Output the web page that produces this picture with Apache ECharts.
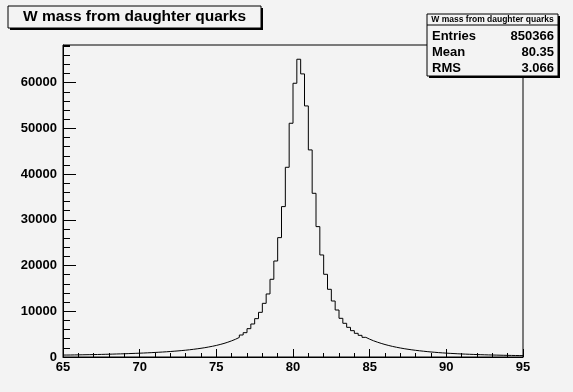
<!DOCTYPE html>
<html><head><meta charset="utf-8">
<script src="https://cdn.jsdelivr.net/npm/echarts@6/dist/echarts.min.js"></script>
<style>html,body{margin:0;padding:0;background:#f3f3f3}#c{width:573px;height:392px}</style>
</head><body><div id="c"></div>
<script>
// Histogram definition
const binLow = 65;
const binWidth = 0.25;
const counts = [
  430,440,455,470,485,500,515,530,550,570,590,610,635,660,685,710,740,770,800,835,
  870,910,950,995,1040,1090,1145,1200,1265,1335,1410,1490,1580,1680,1790,1910,2040,2190,2350,2530,
  2740,2970,3240,3540,3880,4280,
  4810,5320,6200,7220,8390,9770,11740,13790,17000,21000,26110,32900,41500,51130,59880,
  65135,
  61930,54920,45300,35810,28520,22320,18090,14810,12250,10280,8460,7370,6490,5760,5180,4740,
  4300,3900,3550,3250,2980,2730,2510,2310,2130,1970,1820,1690,1570,1460,1360,1270,1180,1100,1030,960,
  900,845,795,750,705,665,630,595,565,535,505,480,455,435,415,395,375,360,345,330,315,300
];
const xTickLabels = [65,70,75,80,85,90,95];
const yTickLabels = [0,10000,20000,30000,40000,50000,60000];
const titleText = 'W mass from daughter quarks';
const statTitle = 'W mass from daughter quarks';
const statNames = ['Entries','Mean','RMS'];
const statValues = ['850366','80.35','3.066'];

const xMin = binLow, xMax = binLow + counts.length * binWidth;
const yMax = 68250;
const stepData = counts.map((c, i) => [binLow + i * binWidth, c]);
stepData.push([xMax, counts[counts.length - 1]]);

const BG = '#f3f3f3';
const FONT = '"Liberation Sans", Arial, Helvetica, sans-serif';
const G = {left: 63, top: 45, width: 460, height: 312};

const chart = echarts.init(document.getElementById('c'), null, {renderer: 'canvas'});

const statX = 427, statY = 14, statW = 131, statH = 62;
const graphics = [
  // title box shadow + box
  {type: 'rect', shape: {x: 10, y: 8, width: 253, height: 22}, style: {fill: '#000'}},
  {type: 'rect', shape: {x: 8, y: 6, width: 253, height: 22}, style: {fill: BG, stroke: '#000', lineWidth: 1}},
  {type: 'text', x: 134.5, y: 17, style: {text: titleText, font: 'bold 15.5px ' + FONT, fill: '#000', align: 'center', verticalAlign: 'middle'}},
  // stats box
  {type: 'rect', shape: {x: statX + 2, y: statY + 2, width: statW, height: statH}, style: {fill: '#000'}},
  {type: 'rect', shape: {x: statX, y: statY, width: statW, height: statH}, style: {fill: BG, stroke: '#000', lineWidth: 1}},
  {type: 'line', shape: {x1: statX, y1: statY + 11, x2: statX + statW, y2: statY + 11}, style: {stroke: '#000', lineWidth: 1}},
  {type: 'text', x: statX + statW / 2, y: statY + 6, style: {text: statTitle, font: 'bold 8.5px ' + FONT, fill: '#000', align: 'center', verticalAlign: 'middle'}}
];
statNames.forEach((n, i) => {
  graphics.push({type: 'text', x: statX + 5, y: statY + 22 + i * 16, style: {text: n, font: 'bold 13px ' + FONT, fill: '#000', align: 'left', verticalAlign: 'middle'}});
  graphics.push({type: 'text', x: statX + statW - 4, y: statY + 22 + i * 16, style: {text: statValues[i], font: 'bold 13px ' + FONT, fill: '#000', align: 'right', verticalAlign: 'middle'}});
});

chart.setOption({
  backgroundColor: BG,
  animation: false,
  grid: {left: G.left, top: G.top, width: G.width, height: G.height, show: true, borderColor: '#000', borderWidth: 1, backgroundColor: 'transparent', containLabel: false},
  xAxis: {
    type: 'value', min: xMin, max: xMax, interval: 5,
    axisLine: {show: true, onZero: false, lineStyle: {color: '#000', width: 1}},
    axisTick: {show: true, inside: true, length: 8, lineStyle: {color: '#000'}},
    minorTick: {show: true, splitNumber: 5, length: 4, lineStyle: {color: '#000'}},
    splitLine: {show: false},
    axisLabel: {color: '#000', fontFamily: FONT, fontWeight: 'bold', fontSize: 13, margin: 4,
      formatter: v => xTickLabels.includes(v) ? String(v) : ''}
  },
  yAxis: [{
    type: 'value', min: 0, max: yMax, interval: 10000,
    axisLine: {show: true, onZero: false, lineStyle: {color: '#000', width: 1}},
    axisTick: {show: true, inside: true, length: 13, lineStyle: {color: '#000'}},
    splitLine: {show: false},
    axisLabel: {color: '#000', fontFamily: FONT, fontWeight: 'bold', fontSize: 13, margin: 6, showMaxLabel: false,
      formatter: v => yTickLabels.includes(v) ? String(v) : ''}
  }, {
    type: 'value', min: 0, max: yMax, interval: 2000, position: 'left',
    axisLine: {show: false},
    axisTick: {show: true, inside: true, length: 7, lineStyle: {color: '#000'}},
    splitLine: {show: false},
    axisLabel: {show: false}
  }],
  series: [{
    type: 'line', step: 'end', data: stepData, symbol: 'none', yAxisIndex: 0,
    lineStyle: {color: '#000', width: 1}, silent: true
  }],
  graphic: graphics
});
</script></body></html>
